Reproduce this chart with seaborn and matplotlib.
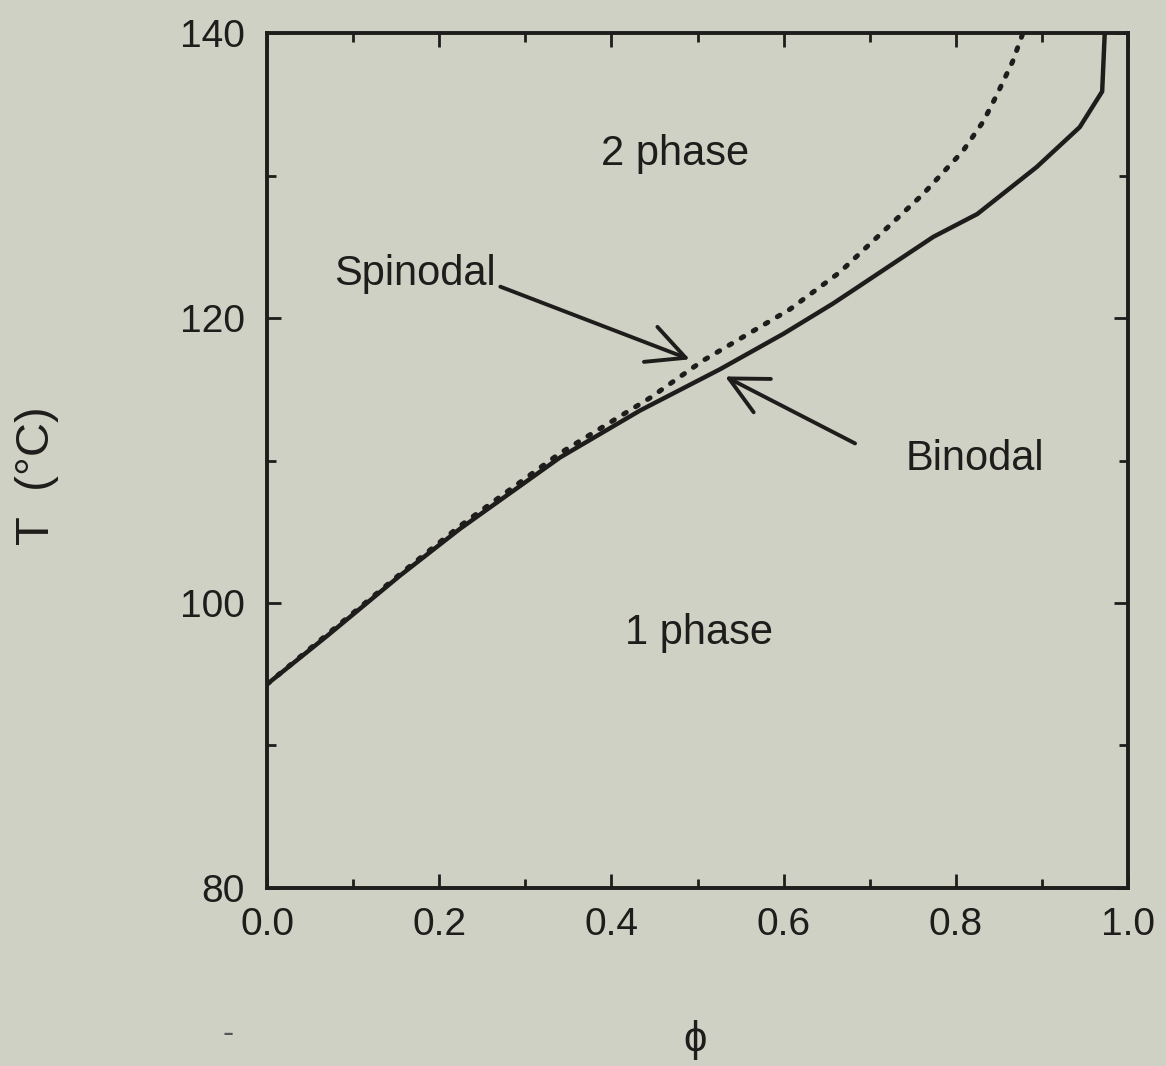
import matplotlib
matplotlib.use("Agg")
import matplotlib.pyplot as plt
import seaborn as sns
import pandas as pd

# Binodal (coexistence) curve: volume fraction vs temperature
phi_binodal = [0.0, 0.07, 0.154, 0.224, 0.34, 0.433, 0.526, 0.60, 0.657, 0.677,
               0.774, 0.825, 0.894, 0.944, 0.970, 0.973]
T_binodal = [94.3, 97.7, 101.9, 105.2, 110.2, 113.5, 116.4, 118.9, 121.0, 121.8,
             125.7, 127.3, 130.6, 133.4, 135.9, 140.0]

# Spinodal (stability limit) curve
phi_spinodal = [0.0, 0.07, 0.154, 0.224, 0.34, 0.445, 0.506, 0.607, 0.665,
                0.762, 0.808, 0.832, 0.848, 0.866, 0.878]
T_spinodal = [94.3, 97.8, 102.0, 105.4, 110.5, 114.4, 117.0, 120.6, 123.2,
              128.7, 131.7, 133.8, 135.7, 138.0, 140.0]

x_ticks = [0.0, 0.2, 0.4, 0.6, 0.8, 1.0]
x_ticklabels = ["0.0", "0.2", "0.4", "0.6", "0.8", "1.0"]
y_ticks = [80, 100, 120, 140]
y_ticklabels = ["80", "100", "120", "140"]

BG = "#cfd1c5"
INK = "#1f1d1b"

sns.set_theme(style="ticks", rc={
    "figure.facecolor": BG,
    "axes.facecolor": BG,
    "axes.edgecolor": INK,
    "axes.linewidth": 2.8,
    "xtick.color": INK,
    "ytick.color": INK,
    "text.color": INK,
})
plt.rcParams["font.family"] = ["Liberation Sans", "DejaVu Sans"]

fig = plt.figure(figsize=(11.66, 10.66), dpi=100)
ax = fig.add_axes([0.229, 0.167, 0.7384, 0.802])

df_bin = pd.DataFrame({"phi": phi_binodal, "T": T_binodal})
df_sp = pd.DataFrame({"phi": phi_spinodal, "T": T_spinodal})

sns.lineplot(data=df_bin, x="phi", y="T", ax=ax, sort=False, estimator=None,
             color=INK, linewidth=3.2)
sns.lineplot(data=df_sp, x="phi", y="T", ax=ax, sort=False, estimator=None,
             color=INK, linewidth=3.6, linestyle=(0, (0.6, 2.2)),
             dash_capstyle="round")

ax.set_xlim(0.0, 1.0)
ax.set_ylim(80, 140)
ax.set_xticks(x_ticks)
ax.set_xticklabels(x_ticklabels)
ax.set_yticks(y_ticks)
ax.set_yticklabels(y_ticklabels)
ax.set_xticks([0.1, 0.3, 0.5, 0.7, 0.9], minor=True)
ax.set_yticks([90, 110, 130], minor=True)

ax.tick_params(which="both", direction="in", top=True, right=True,
               labelsize=28, colors=INK)
ax.tick_params(which="major", length=10, width=2.0)
ax.tick_params(which="minor", length=6.5, width=2.0)
ax.tick_params(axis="y", which="major", pad=16)
ax.tick_params(axis="x", which="major", pad=14)

for s in ax.spines.values():
    s.set_visible(True)
    s.set_linewidth(2.8)
    s.set_color(INK)

ax.set_xlabel("")
ax.set_ylabel("")

# Axis titles
fig.text(0.032, 0.554, "T  (°C)", rotation=90, fontsize=34,
         ha="center", va="center", color=INK)
fig.text(0.596, 0.024, "ϕ", fontsize=30, ha="center", va="center", color=INK)
fig.text(0.196, 0.030, "-", fontsize=24, ha="center", va="center", color="#555555")

# Region labels
ax.text(0.474, 131.5, "2 phase", fontsize=30, ha="center", va="center", color=INK)
ax.text(0.502, 97.9, "1 phase", fontsize=30, ha="center", va="center", color=INK)
ax.text(0.172, 123.1, "Spinodal", fontsize=30, ha="center", va="center", color=INK)
ax.text(0.822, 110.1, "Binodal", fontsize=30, ha="center", va="center", color=INK)

arrow_kw = dict(arrowstyle="->,head_length=0.9,head_width=0.45",
                color=INK, lw=2.8, mutation_scale=30, shrinkA=0, shrinkB=0)
ax.annotate("", xy=(0.491, 117.1), xytext=(0.271, 122.2), arrowprops=arrow_kw)
ax.annotate("", xy=(0.532, 115.9), xytext=(0.683, 111.2), arrowprops=arrow_kw)

fig.savefig("out.png", dpi=100, facecolor=BG)
